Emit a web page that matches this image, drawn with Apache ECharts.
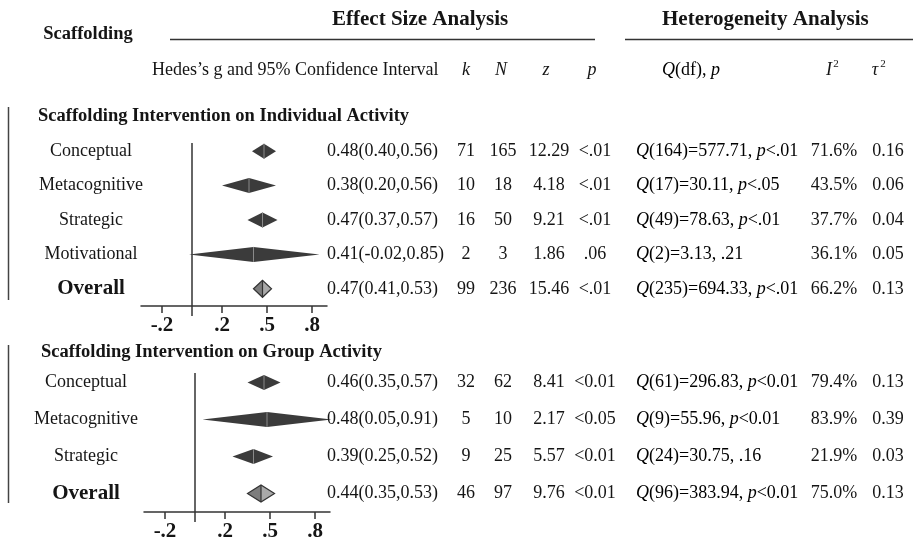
<!DOCTYPE html>
<html>
<head>
<meta charset="utf-8">
<script src="https://cdn.jsdelivr.net/npm/echarts@6.0.0/dist/echarts.min.js"></script>
<style>
  html, body { margin: 0; padding: 0; background: #fff; }
  #chart { width: 913px; height: 545px; }
</style>
</head>
<body>
<div id="chart"></div>
<script>
var FONT = '"Liberation Serif", "DejaVu Serif", serif';
var INK = '#151515';

// individual activity
var rowsA = ['Conceptual', 'Metacognitive', 'Strategic', 'Motivational', 'Overall'];
var gA = [0.48, 0.38, 0.47, 0.41, 0.47];
var loA = [0.40, 0.20, 0.37, -0.02, 0.41];
var hiA = [0.56, 0.56, 0.57, 0.85, 0.53];
var kA = [71, 10, 16, 2, 99];
var nA = [165, 18, 50, 3, 236];
var zA = ['12.29', '4.18', '9.21', '1.86', '15.46'];
var pA = ['<.01', '<.01', '<.01', '.06', '<.01'];
var qdfA = [164, 17, 49, 2, 235];
var qA = ['577.71', '30.11', '78.63', '3.13', '694.33'];
var qpA = ['p<.01', 'p<.05', 'p<.01', '.21', 'p<.01'];
var i2A = ['71.6%', '43.5%', '37.7%', '36.1%', '66.2%'];
var t2A = ['0.16', '0.06', '0.04', '0.05', '0.13'];

// group activity
var rowsB = ['Conceptual', 'Metacognitive', 'Strategic', 'Overall'];
var gB = [0.46, 0.48, 0.39, 0.44];
var loB = [0.35, 0.05, 0.25, 0.35];
var hiB = [0.57, 0.91, 0.52, 0.53];
var kB = [32, 5, 9, 46];
var nB = [62, 10, 25, 97];
var zB = ['8.41', '2.17', '5.57', '9.76'];
var pB = ['<0.01', '<0.05', '<0.01', '<0.01'];
var qdfB = [61, 9, 24, 96];
var qB = ['296.83', '55.96', '30.75', '383.94'];
var qpB = ['p<0.01', 'p<0.01', '.16', 'p<0.01'];
var i2B = ['79.4%', '83.9%', '21.9%', '75.0%'];
var t2B = ['0.13', '0.39', '0.03', '0.13'];

var tickValues = [-0.2, 0.2, 0.5, 0.8];
var tickLabels = ['-.2', '.2', '.5', '.8'];

// column x positions of the table
var COL = { ci: 327, k: 466, n: 503, z: 549, p: 595, q: 636, i2: 834, t2: 888 };

var richBase = {
  r: { fontFamily: FONT, fontSize: 18, color: INK },
  i: { fontFamily: FONT, fontSize: 18, fontStyle: 'italic', color: INK }
};

function txt(x, y, s, align) {
  return {
    type: 'text',
    style: { x: x, y: y, text: s, fontFamily: FONT, fontSize: 18, fill: INK,
      align: align || 'center', verticalAlign: 'middle' }
  };
}

function qText(df, q, qp) {
  var tail = qp.charAt(0) === 'p' ? '{i|p}{r|' + qp.slice(1) + '}' : '{r|' + qp + '}';
  return '{i|Q}{r|(' + df + ')=' + q + ', }' + tail;
}

function forest(d) {
  return function (params, api) {
    var i = params.dataIndex;
    var cs = params.coordSys;
    var c = api.coord([d.g[i], i]);
    var x = c[0], y = c[1];
    var L = api.coord([d.lo[i], i])[0];
    var R = api.coord([d.hi[i], i])[0];
    var overall = d.rows[i] === 'Overall';
    var h = overall ? 8.5 : 7.5;
    var kids = [];
    if (i === 0) {
      var x0 = api.coord([0, 0])[0];
      kids.push({ type: 'line', shape: { x1: x0, y1: cs.y + 9, x2: x0, y2: cs.y + cs.height + 10 },
        style: { stroke: '#333', lineWidth: 1.5 } });
    }
    if (overall) {
      kids.push({ type: 'polygon', shape: { points: [[L, y], [x, y - h], [x, y + h]] }, style: { fill: '#7d7d7d' } });
      kids.push({ type: 'polygon', shape: { points: [[x, y - h], [R, y], [x, y + h]] }, style: { fill: '#a9a9a9' } });
      kids.push({ type: 'polygon', shape: { points: [[L, y], [x, y - h], [R, y], [x, y + h]] },
        style: { fill: null, stroke: '#333', lineWidth: 1.2 } });
      kids.push({ type: 'line', shape: { x1: x, y1: y - h, x2: x, y2: y + h }, style: { stroke: '#333', lineWidth: 1.2 } });
    } else {
      kids.push({ type: 'polygon', shape: { points: [[L, y], [x, y - h], [R, y], [x, y + h]] }, style: { fill: '#3b3b3b' } });
      kids.push({ type: 'line', shape: { x1: x, y1: y - h, x2: x, y2: y + h }, style: { stroke: '#8a8a8a', lineWidth: 1 } });
    }
    var ci = d.g[i].toFixed(2) + '(' + d.lo[i].toFixed(2) + ',' + d.hi[i].toFixed(2) + ')';
    kids.push(txt(COL.ci, y, ci, 'left'));
    kids.push(txt(COL.k, y, String(d.k[i])));
    kids.push(txt(COL.n, y, String(d.n[i])));
    kids.push(txt(COL.z, y, d.z[i]));
    kids.push(txt(COL.p, y, d.p[i]));
    kids.push({ type: 'text', style: { x: COL.q, y: y, text: qText(d.qdf[i], d.q[i], d.qp[i]),
      rich: richBase, align: 'left', verticalAlign: 'middle' } });
    kids.push(txt(COL.i2, y, d.i2[i]));
    kids.push(txt(COL.t2, y, d.t2[i]));
    return { type: 'group', children: kids };
  };
}

var setA = { rows: rowsA, g: gA, lo: loA, hi: hiA, k: kA, n: nA, z: zA, p: pA, qdf: qdfA, q: qA, qp: qpA, i2: i2A, t2: t2A };
var setB = { rows: rowsB, g: gB, lo: loB, hi: hiB, k: kB, n: nB, z: zB, p: pB, qdf: qdfB, q: qB, qp: qpB, i2: i2B, t2: t2B };

function xAxisFor(idx) {
  return {
    type: 'value', gridIndex: idx, min: -0.34, max: 0.9,
    splitLine: { show: false },
    axisLine: { show: true, onZero: false, lineStyle: { color: '#333', width: 1.5 } },
    axisTick: { show: true, customValues: tickValues, length: 7, lineStyle: { color: '#333', width: 1.5 } },
    axisLabel: {
      customValues: tickValues, margin: 9, color: INK,
      fontFamily: FONT, fontSize: 21, fontWeight: 'bold',
      formatter: function (v) { return tickLabels[tickValues.indexOf(v)]; }
    }
  };
}

function yAxisFor(idx, rows, margin) {
  return {
    type: 'category', gridIndex: idx, data: rows, inverse: true,
    axisLine: { show: false }, axisTick: { show: false }, splitLine: { show: false },
    axisLabel: {
      align: 'center', margin: margin,
      formatter: function (v) { return v === 'Overall' ? '{b|Overall}' : '{r|' + v + '}'; },
      rich: {
        b: { fontFamily: FONT, fontSize: 21, fontWeight: 'bold', color: INK },
        r: { fontFamily: FONT, fontSize: 18, color: INK }
      }
    }
  };
}

function seriesData(d) {
  return d.rows.map(function (r, i) { return [d.g[i], i]; });
}

function headText(x, y, s, opts) {
  var st = { x: x, y: y, text: s, fontFamily: FONT, fontSize: 18, fill: INK, align: 'left', verticalAlign: 'middle' };
  for (var key in opts) st[key] = opts[key];
  return { type: 'text', style: st, z: 10 };
}

function hline(x1, x2, y) {
  return { type: 'line', shape: { x1: x1, y1: y, x2: x2, y2: y }, style: { stroke: '#333', lineWidth: 1.5 }, z: 10 };
}

var chart = echarts.init(document.getElementById('chart'), null, { renderer: 'canvas' });

chart.setOption({
  backgroundColor: '#fff',
  animation: false,
  grid: [
    { left: 141, top: 134, width: 186, height: 172, outerBoundsMode: 'none' },
    { left: 144, top: 364, width: 186, height: 148, outerBoundsMode: 'none' }
  ],
  xAxis: [xAxisFor(0), xAxisFor(1)],
  yAxis: [yAxisFor(0, rowsA, 50), yAxisFor(1, rowsB, 58)],
  series: [
    { type: 'custom', xAxisIndex: 0, yAxisIndex: 0, data: seriesData(setA), renderItem: forest(setA), encode: { x: 0, y: 1 } },
    { type: 'custom', xAxisIndex: 1, yAxisIndex: 1, data: seriesData(setB), renderItem: forest(setB), encode: { x: 0, y: 1 } }
  ],
  graphic: [
    headText(88, 34, 'Scaffolding', { fontWeight: 'bold', align: 'center', fontSize: 18.5 }),
    headText(332, 20, 'Effect Size Analysis', { fontWeight: 'bold', fontSize: 21 }),
    headText(662, 20, 'Heterogeneity Analysis', { fontWeight: 'bold', fontSize: 21 }),
    hline(170, 595, 39.5),
    hline(625, 913, 39.5),
    headText(152, 70, 'Hedes\u2019s g and 95% Confidence Interval', {}),
    headText(466, 70, 'k', { fontStyle: 'italic', align: 'center' }),
    headText(501, 70, 'N', { fontStyle: 'italic', align: 'center' }),
    headText(546, 70, 'z', { fontStyle: 'italic', align: 'center' }),
    headText(592, 70, 'p', { fontStyle: 'italic', align: 'center' }),
    { type: 'text', z: 10, style: { x: 662, y: 70, text: '{i|Q}{r|(df), }{i|p}', rich: richBase, align: 'left', verticalAlign: 'middle' } },
    headText(829, 70, 'I', { fontStyle: 'italic', align: 'center' }),
    headText(836, 64, '2', { fontSize: 11, align: 'center' }),
    headText(875, 70, '\u03c4', { fontStyle: 'italic', align: 'center' }),
    headText(883, 64, '2', { fontSize: 11, align: 'center' }),
    headText(38, 116, 'Scaffolding Intervention on Individual Activity', { fontWeight: 'bold', fontSize: 18.5 }),
    headText(41, 352, 'Scaffolding Intervention on Group Activity', { fontWeight: 'bold', fontSize: 18.5 }),
    { type: 'line', z: 10, shape: { x1: 8.5, y1: 107, x2: 8.5, y2: 300 }, style: { stroke: '#444', lineWidth: 1.5 } },
    { type: 'line', z: 10, shape: { x1: 8.5, y1: 345, x2: 8.5, y2: 503 }, style: { stroke: '#444', lineWidth: 1.5 } }
  ]
});
</script>
</body>
</html>
